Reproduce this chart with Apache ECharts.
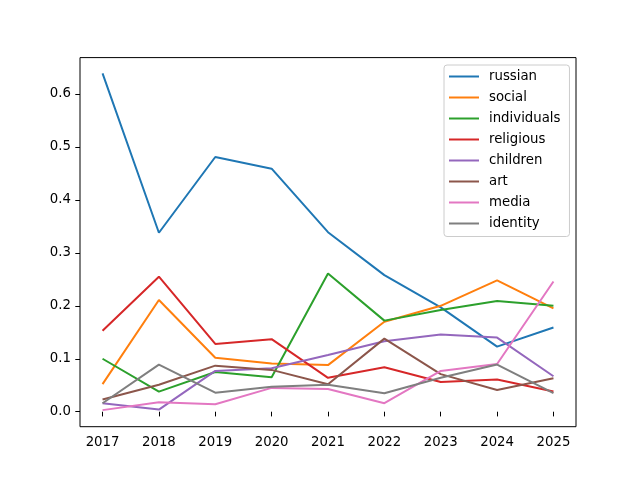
<!DOCTYPE html>
<html>
<head>
<meta charset="utf-8">
<script src="https://cdn.jsdelivr.net/npm/echarts@6/dist/echarts.min.js"></script>
<style>html,body{margin:0;padding:0;background:#fff;}#c{width:640px;height:480px;}</style>
</head>
<body>
<div id="c"></div>
<script>
const years = [2017, 2018, 2019, 2020, 2021, 2022, 2023, 2024, 2025];
const russian     = [0.639, 0.338, 0.481, 0.459, 0.339, 0.258, 0.197, 0.123, 0.159];
const social      = [0.052, 0.211, 0.102, 0.091, 0.088, 0.170, 0.200, 0.248, 0.195];
const individuals = [0.100, 0.038, 0.075, 0.065, 0.261, 0.172, 0.192, 0.209, 0.200];
const religious   = [0.153, 0.255, 0.128, 0.137, 0.064, 0.084, 0.056, 0.061, 0.038];
const children    = [0.016, 0.004, 0.077, 0.082, 0.107, 0.133, 0.146, 0.140, 0.067];
const art         = [0.023, 0.051, 0.087, 0.079, 0.052, 0.138, 0.071, 0.041, 0.063];
const media       = [0.003, 0.018, 0.014, 0.045, 0.043, 0.016, 0.077, 0.090, 0.246];
const identity    = [0.016, 0.089, 0.036, 0.047, 0.051, 0.035, 0.064, 0.089, 0.035];
const yTicks = [0.0, 0.1, 0.2, 0.3, 0.4, 0.5, 0.6];

const names = ['russian','social','individuals','religious','children','art','media','identity'];
const values = [russian, social, individuals, religious, children, art, media, identity];
const colors = ['#1f77b4','#ff7f0e','#2ca02c','#d62728','#9467bd','#8c564b','#e377c2','#7f7f7f'];

const font = 'DejaVu Sans';
const chart = echarts.init(document.getElementById('c'), null, {renderer: 'canvas'});
chart.setOption({
  animation: false,
  backgroundColor: '#fff',
  color: colors,
  grid: {left: 80, right: 64, top: 57.6, bottom: 53.3, show: true, borderColor: '#000', borderWidth: 1, containLabel: false},
  xAxis: {
    type: 'value', min: 2016.6, max: 2025.4,
    axisLine: {show: false},
    splitLine: {show: false},
    axisTick: {show: true, inside: false, length: 4.7, lineStyle: {color: '#000', width: 1}, customValues: years},
    axisLabel: {show: true, color: '#000', fontFamily: font, fontSize: 13.3, margin: 9, customValues: years, formatter: v => String(v)}
  },
  yAxis: {
    type: 'value', min: -0.0283, max: 0.6687,
    axisLine: {show: false},
    splitLine: {show: false},
    axisTick: {show: true, inside: false, length: 4.7, lineStyle: {color: '#000', width: 1}, customValues: yTicks},
    axisLabel: {show: true, color: '#000', fontFamily: font, fontSize: 13.3, margin: 9, customValues: yTicks, formatter: v => v.toFixed(1)}
  },
  legend: {
    orient: 'vertical', left: 444, top: 65,
    data: names,
    icon: 'rect', itemWidth: 30, itemHeight: 2, itemGap: 5,
    padding: [3.5, 9, 5, 5],
    backgroundColor: 'rgba(255,255,255,0.8)', borderColor: '#cccccc', borderWidth: 1, borderRadius: 3,
    textStyle: {fontFamily: font, fontSize: 13.3, color: '#000', lineHeight: 16, padding: [0, 0, 0, 5]}
  },
  series: names.map((n, i) => ({
    name: n, type: 'line', showSymbol: false, symbol: 'none',
    data: years.map((y, j) => [y, values[i][j]]),
    lineStyle: {width: 2, color: colors[i]},
    itemStyle: {color: colors[i]}
  }))
});
</script>
</body>
</html>
